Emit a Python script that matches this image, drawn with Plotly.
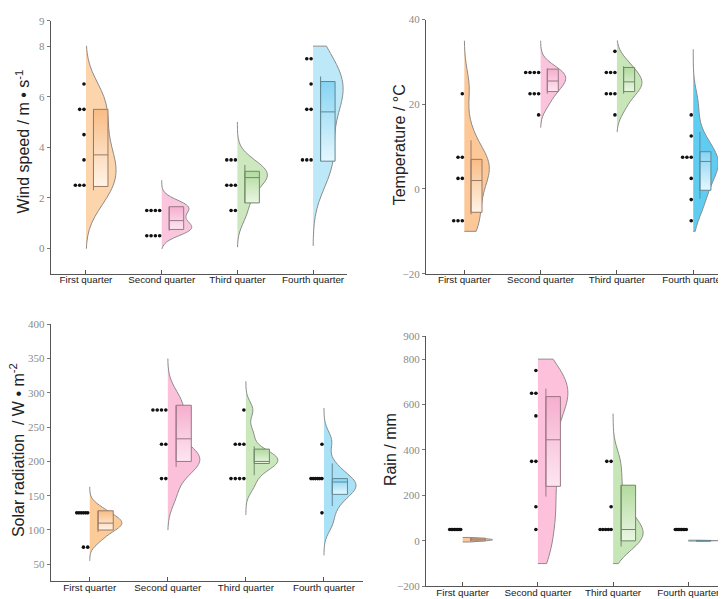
import plotly.graph_objects as go

quarters = ["First quarter", "Second quarter", "Third quarter", "Fourth quarter"]

# dot strips: bin centres and how many dots fall in each bin
wind_bins = [[2.5, 3.5, 4.5, 5.5, 6.5], [0.5, 1.5], [1.5, 2.5, 3.5], [3.5, 5.5, 6.5, 7.5]]
wind_counts = [[3, 1, 1, 2, 1], [4, 4], [2, 3, 3], [3, 2, 1, 2]]
temp_bins = [[-7.5, 2.5, 7.5, 22.5], [17.5, 22.5, 27.5], [17.5, 22.5, 27.5, 32.5],
             [-7.5, -2.5, 2.5, 7.5, 12.5, 17.5]]
temp_counts = [[3, 2, 2, 1], [1, 3, 4], [1, 3, 3, 1], [1, 1, 1, 3, 1, 1]]
solar_bins = [[75, 125], [175, 225, 275], [175, 225, 275], [125, 175, 225]]
solar_counts = [[2, 6], [2, 2, 4], [4, 3, 1], [1, 6, 1]]
rain_bins = [[50], [50, 150, 350, 550, 650, 750], [50, 150, 350], [50]]
rain_counts = [[8], [1, 1, 2, 1, 2, 1], [5, 1, 2], [8]]

# values behind the half violins (kernel density), bandwidth and span
wind_samples = [[1.9, 2.5, 3.0, 3.4, 4.0, 4.8, 5.5, 6.2],
                [0.6, 0.75, 0.85, 1.0, 1.3, 1.55, 1.65, 1.8],
                [1.3, 1.9, 2.4, 2.7, 2.9, 3.0, 3.1, 3.4],
                [2.8, 3.6, 4.3, 5.4, 6.0, 6.4, 6.9, 7.6]]
wind_bw = [0.75, 0.25, 0.45, 0.9]
wind_span = [[0, 8], [0, 2.7], [0.05, 5], [0.1, 8]]
temp_samples = [[-10, -8, -5, -2, 1, 3, 5, 6, 7, 9, 14, 24],
                [20, 22.5, 24, 25, 26, 27, 27.5, 28.5],
                [19, 22, 23.5, 24.5, 25.5, 26.5, 28, 30],
                [-5, -2, 1, 3, 5, 6, 7, 8, 10, 13, 20]]
temp_bw = [4, 2, 2.2, 3.5]
temp_span = [[-10, 35], [14.5, 35], [13.5, 35], [-10, 33]]
solar_samples = [[85, 97, 103, 108, 112, 116, 122, 132],
                 [150, 180, 195, 200, 205, 212, 225, 262, 275, 295],
                 [165, 185, 195, 200, 203, 208, 215, 240, 275],
                 [110, 135, 150, 160, 165, 170, 178, 195, 230]]
solar_bw = [9, 18, 12, 14]
solar_span = [[55, 163], [100, 350], [122, 317], [63, 278]]
rain_samples = [[0, 2, 4, 6, 8, 10],
                [-50, 80, 180, 300, 380, 500, 600, 640, 700, 760],
                [-20, 0, 20, 40, 60, 100, 150, 250, 350],
                [0, 0.5, 1, 1.5, 2]]
rain_bw = [5, 90, 60, 1]
rain_span = [[-5, 15], [-100, 800], [-100, 560], [-1, 3]]

# boxes: q1, median, q3, whisker low, whisker high
wind_box = [[2.45, 3.7, 5.5, 2.3, 5.5], [0.75, 1.1, 1.65, 0.7, 1.65],
            [1.8, 2.8, 3.05, 1.8, 3.3], [3.45, 5.4, 6.6, 3.45, 6.8]]
temp_box = [[-5.5, 2, 7, -6, 11.5], [23, 25.5, 28.3, 22.5, 28.5],
            [23, 25.3, 28.7, 22.5, 29], [-0.3, 6.5, 8.8, -2.3, 13.5]]
solar_box = [[100, 110, 128, 97, 128], [200, 233, 282, 192, 282],
             [197, 200, 218, 180, 222], [152, 170, 175, 135, 197]]
rain_box = [[0, 5, 12, 0, 12], [240, 445, 635, 195, 670],
            [0, 50, 245, -25, 245], [0, 0, 1, 0, 1]]

panels = [
    dict(bins=wind_bins, counts=wind_counts, samples=wind_samples, bw=wind_bw, span=wind_span,
         box=wind_box, xpx=(42.7, 339), ypx=(7, 265), xr=(-0.466, 3.448), yr=(-1, 9),
         yticks=[0, 2, 4, 6, 8, 9], title="Wind speed / m • s<sup>-1</sup>", tpos=(15, 130),
         half=30, boxpx=(7.5, 22),
         colors=["#FDD5AC", "#FAC6DD", "#CDE8BE", "#BDE8F8"]),
    dict(bins=temp_bins, counts=temp_counts, samples=temp_samples, bw=temp_bw, span=temp_span,
         box=temp_box, xpx=(418, 723), ypx=(5.7, 265), xr=(-0.502, 3.495), yr=(-20, 40),
         yticks=[-20, 0, 20, 40], title="Temperature / °C", tpos=(391, 133),
         half=25, boxpx=(6.7, 17.7),
         colors=["#FCC898", "#FBC4DC", "#C9E6B8", "#5FCDF2"]),
    dict(bins=solar_bins, counts=solar_counts, samples=solar_samples, bw=solar_bw, span=solar_span,
         box=solar_box, xpx=(42.7, 355), ypx=(316.7, 579), xr=(-0.5, 3.5), yr=(25, 400),
         yticks=[50, 100, 150, 200, 250, 300, 350, 400], title="Solar radiation  / W • m<sup>-2</sup>",
         tpos=(9, 445), half=32, boxpx=(8.3, 23.5),
         colors=["#FCCB98", "#FBC1DA", "#CBE8BD", "#A9E2F6"]),
    dict(bins=rain_bins, counts=rain_counts, samples=rain_samples, bw=rain_bw, span=rain_span,
         box=rain_box, xpx=(418, 717), ypx=(329, 584), xr=(-0.488, 3.488), yr=(-200, 900),
         yticks=[-200, 0, 200, 400, 600, 800, 900], title="Rain / mm", tpos=(382, 445),
         half=30, boxpx=(8, 22.5),
         colors=["#FCC898", "#FDC1DC", "#C6E6B7", "#A9E2F6"]),
]

box_top = ["#F8BC84", "#F6AECF", "#B2DA9E", "#86D4F3"]
box_bottom = ["#FFF4E8", "#FDE6F0", "#EAF6E3", "#E6F7FD"]
box_line = ["#9A7A66", "#9A7886", "#6F8A66", "#5F8796"]

W, H = 726, 599
fig = go.Figure()
layout = {}
annotations = []

for n, p in enumerate(panels):
    sfx = "" if n == 0 else str(n + 1)
    xa, ya = "x" + sfx, "y" + sfx
    ppu = (p["xpx"][1] - p["xpx"][0]) / (p["xr"][1] - p["xr"][0])

    for i in range(4):
        fig.add_trace(go.Violin(
            y=p["samples"][i], x0=i, xaxis=xa, yaxis=ya,
            side="positive", width=2 * p["half"] / ppu, scalemode="width",
            spanmode="manual", span=p["span"][i], bandwidth=p["bw"][i],
            fillcolor=p["colors"][i], line=dict(color="#8c8c8c", width=1),
            points=False, box_visible=False, meanline_visible=False,
            opacity=1, hoverinfo="skip"))

        q1, med, q3, lo, hi = p["box"][i]
        bl = i + p["boxpx"][0] / ppu
        br = i + p["boxpx"][1] / ppu
        fig.add_trace(go.Scatter(
            x=[bl, br, br, bl, bl], y=[q1, q1, q3, q3, q1], xaxis=xa, yaxis=ya,
            mode="lines", fill="toself",
            fillgradient=dict(type="vertical",
                              colorscale=[[0, box_bottom[i]], [1, box_top[i]]]),
            line=dict(color=box_line[i], width=1), hoverinfo="skip"))
        fig.add_trace(go.Scatter(
            x=[bl, br], y=[med, med], xaxis=xa, yaxis=ya, mode="lines",
            line=dict(color=box_line[i], width=1), hoverinfo="skip"))
        fig.add_trace(go.Scatter(
            x=[bl, bl], y=[lo, hi], xaxis=xa, yaxis=ya, mode="lines",
            line=dict(color=box_line[i], width=1), hoverinfo="skip"))

        # dots stacked leftwards from the category position
        dx, dy = [], []
        for v, c in zip(p["bins"][i], p["counts"][i]):
            sp = 4.3 if c <= 4 else 11.0 / (c - 1)
            for k in range(c):
                dx.append(i + (-2 - k * sp) / ppu)
                dy.append(v)
        fig.add_trace(go.Scatter(
            x=dx, y=dy, xaxis=xa, yaxis=ya, mode="markers",
            marker=dict(size=3.6, color="#111111"), hoverinfo="skip"))

    layout["xaxis" + sfx] = dict(
        domain=[p["xpx"][0] / W, p["xpx"][1] / W], range=list(p["xr"]), anchor=ya,
        tickvals=[0, 1, 2, 3], ticktext=quarters, ticks="inside", ticklen=4,
        tickcolor="#555555", showline=True, linecolor="#555555", linewidth=1,
        showgrid=False, zeroline=False, ticklabelstandoff=-3,
        tickfont=dict(family="Liberation Sans", size=9.8, color="#1a1a1a"))
    layout["yaxis" + sfx] = dict(
        domain=[1 - p["ypx"][1] / H, 1 - p["ypx"][0] / H], range=list(p["yr"]), anchor=xa,
        tickvals=p["yticks"], ticks="outside", ticklen=3, tickcolor="#777777",
        showline=True, linecolor="#555555", linewidth=1, showgrid=False, zeroline=False,
        tickfont=dict(family="Liberation Serif", size=11, color="#8a8a8a"))
    annotations.append(dict(
        text=p["title"], xref="paper", yref="paper", x=p["tpos"][0] / W, y=1 - p["tpos"][1] / H,
        xanchor="center", yanchor="middle", textangle=-90, showarrow=False,
        font=dict(family="Liberation Sans", size=16, color="#222222")))

fig.update_layout(
    width=W, height=H, margin=dict(l=0, r=0, t=0, b=0),
    paper_bgcolor="white", plot_bgcolor="white", showlegend=False,
    annotations=annotations, **layout)

fig.write_html("out.html")
